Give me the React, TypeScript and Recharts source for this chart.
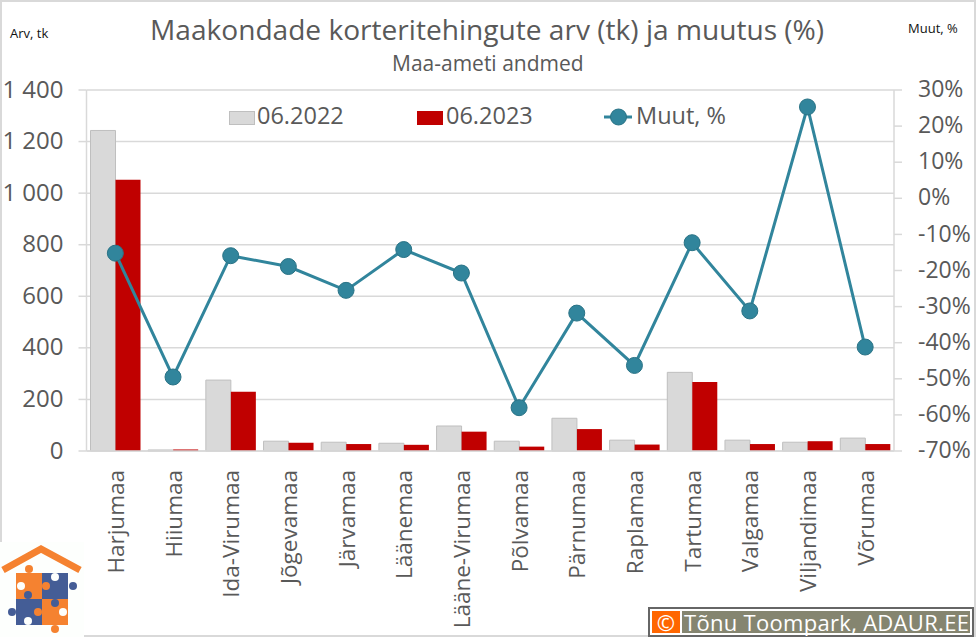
import {
  ComposedChart,
  Bar,
  Line,
  XAxis,
  YAxis,
  CartesianGrid,
} from 'recharts'

const MAAKONNAD = ['Harjumaa', 'Hiiumaa', 'Ida-Virumaa', 'Jõgevamaa', 'Järvamaa', 'Läänemaa', 'Lääne-Virumaa', 'Põlvamaa', 'Pärnumaa', 'Raplamaa', 'Tartumaa', 'Valgamaa', 'Viljandimaa', 'Võrumaa']
const ARV_2022 = [1243, 4, 275, 38, 34, 30, 97, 38, 127, 42, 305, 42, 34, 50]
const ARV_2023 = [1052, 6, 230, 32, 27, 24, 75, 17, 85, 25, 268, 27, 38, 27]
const MUUTUS = [-15.2, -49.5, -15.9, -18.9, -25.5, -14.2, -20.7, -58, -31.8, -46.3, -12.3, -31.2, 25.3, -41.2]
const LEFT_TICKS = [0, 200, 400, 600, 800, 1000, 1200, 1400]
const RIGHT_TICKS = [-70, -60, -50, -40, -30, -20, -10, 0, 10, 20, 30]

const FONT = '"Open Sans", sans-serif'
const TEXT = '#595959'
const GRID = '#d9d9d9'
const LINE = '#31859c'
const ORANGE = '#f58230'
const BLUE = '#445d96'
const PAPER = '#fdfffd'

const data = MAAKONNAD.map((nimi, i) => ({
  nimi,
  a2022: ARV_2022[i],
  a2023: ARV_2023[i],
  muutus: MUUTUS[i],
}))

function CategoryTick({ x, payload }: any) {
  return (
    <text
      transform={`translate(${x + 8.5},470) rotate(-90)`}
      y={0}
      textAnchor="end"
      fontSize={22.5}
      fontFamily={FONT}
      fill={TEXT}
    >
      {payload.value}
    </text>
  )
}

function Logo() {
  return (
    <svg width={84} height={95} style={{ position: 'absolute', left: 0, top: 542, background: PAPER }}>
      <path d="M3 28 L41 7 L80 28" fill="none" stroke={ORANGE} strokeWidth={7} />
      <rect x={16} y={31} width={26} height={26} fill={ORANGE} />
      <rect x={42} y={31} width={26} height={26} fill={BLUE} />
      <rect x={16} y={57} width={26} height={26} fill={BLUE} />
      <rect x={42} y={57} width={26} height={26} fill={ORANGE} />
      <circle cx={29} cy={27} r={4} fill={ORANGE} />
      <circle cx={73} cy={44} r={4} fill={BLUE} />
      <circle cx={12} cy={70} r={4} fill={BLUE} />
      <circle cx={55} cy={87} r={4} fill={ORANGE} />
      <circle cx={46} cy={44} r={4} fill={ORANGE} />
      <circle cx={55} cy={35} r={4} fill={PAPER} />
      <circle cx={21} cy={44} r={4} fill={PAPER} />
      <circle cx={28} cy={53} r={4} fill={BLUE} />
      <circle cx={38} cy={70} r={4} fill={ORANGE} />
      <circle cx={55} cy={61} r={4} fill={BLUE} />
      <circle cx={63} cy={70} r={4} fill={PAPER} />
      <circle cx={28} cy={79} r={4} fill={PAPER} />
    </svg>
  )
}

const label = (left: number, top: number, text: string, size: number, color: string) => (
  <div style={{ position: 'absolute', left, top, fontSize: size, color, fontFamily: FONT, whiteSpace: 'nowrap', lineHeight: 1 }}>
    {text}
  </div>
)

export default function App() {
  return (
    <div style={{ position: 'absolute', left: 0, top: 0, width: 976, height: 637, background: '#fff', overflow: 'hidden' }}>
      <ComposedChart
        width={976}
        height={637}
        data={data}
        margin={{ top: 90, right: 0, bottom: 0, left: 0 }}
        barSize={25}
        barGap={0}
      >
        <CartesianGrid vertical={false} stroke={GRID} strokeWidth={1.5} yAxisId="left" />
        <XAxis
          dataKey="nimi"
          height={186}
          interval={0}
          stroke={GRID}
          strokeWidth={1.5}
          tickLine={false}
          tick={<CategoryTick />}
        />
        <YAxis
          yAxisId="left"
          width={86.5}
          domain={[0, 1400]}
          ticks={LEFT_TICKS}
          interval={0}
          stroke={GRID}
          strokeWidth={1.5}
          tickSize={8}
          tickMargin={15}
          tick={{ fontSize: 24, fontFamily: FONT, fill: TEXT, dy: -1 }}
          tickFormatter={(v: number) => String(v).replace(/\B(?=(\d{3})+$)/g, ' ')}
        />
        <YAxis
          yAxisId="right"
          orientation="right"
          width={82}
          domain={[-70, 30]}
          ticks={RIGHT_TICKS}
          interval={0}
          stroke={GRID}
          strokeWidth={1.5}
          tickSize={8}
          tickMargin={16}
          tick={{ fontSize: 23, fontFamily: FONT, fill: TEXT, dy: -1 }}
          tickFormatter={(v: number) => `${v}%`}
        />
        <Bar yAxisId="left" dataKey="a2022" fill="#d9d9d9" stroke="#bfbfbf" strokeWidth={1} isAnimationActive={false} />
        <Bar yAxisId="left" dataKey="a2023" fill="#c00000" isAnimationActive={false} />
        <Line
          yAxisId="right"
          dataKey="muutus"
          stroke={LINE}
          strokeWidth={3}
          dot={{ r: 8, fill: LINE, stroke: '#2a7386', strokeWidth: 1 }}
          isAnimationActive={false}
        />
      </ComposedChart>

      <div style={{ position: 'absolute', inset: 0, border: `2px solid ${GRID}`, boxSizing: 'border-box', pointerEvents: 'none' }} />

      {label(150, 15, 'Maakondade korteritehingute arv (tk) ja muutus (%)', 28.1, TEXT)}
      {label(392, 53, 'Maa-ameti andmed', 21, TEXT)}
      {label(10, 27, 'Arv, tk', 13, '#111')}
      {label(908, 22, 'Muut, %', 13, '#111')}

      <div style={{ position: 'absolute', left: 229, top: 111, width: 26, height: 14, boxSizing: 'border-box', background: '#d9d9d9', border: '1px solid #bfbfbf' }} />
      {label(257, 104, '06.2022', 23.5, TEXT)}
      <div style={{ position: 'absolute', left: 417, top: 111, width: 26, height: 14, background: '#c00000' }} />
      {label(446, 104, '06.2023', 23.5, TEXT)}
      <svg width={36} height={20} style={{ position: 'absolute', left: 602, top: 107 }}>
        <line x1={2} y1={10} x2={30} y2={10} stroke={LINE} strokeWidth={3} />
        <circle cx={16.5} cy={10} r={8} fill={LINE} stroke="#2a7386" />
      </svg>
      {label(636, 104, 'Muut, %', 23.5, TEXT)}

      <Logo />

      <div style={{ position: 'absolute', left: 648, top: 607, width: 326, height: 30, boxSizing: 'border-box', border: '2px solid #666', background: '#fff', padding: 2, display: 'flex', gap: 2 }}>
        <div style={{ width: 28, background: '#ff6600', color: '#fff', fontSize: 22, fontFamily: FONT, textAlign: 'center', lineHeight: '22px' }}>©</div>
        <div style={{ flex: 1, background: '#858570', color: '#fff', fontSize: 22, letterSpacing: 0.3, fontFamily: FONT, lineHeight: '22px', paddingLeft: 2, whiteSpace: 'nowrap' }}>Tõnu Toompark, ADAUR.EE</div>
      </div>
    </div>
  )
}
